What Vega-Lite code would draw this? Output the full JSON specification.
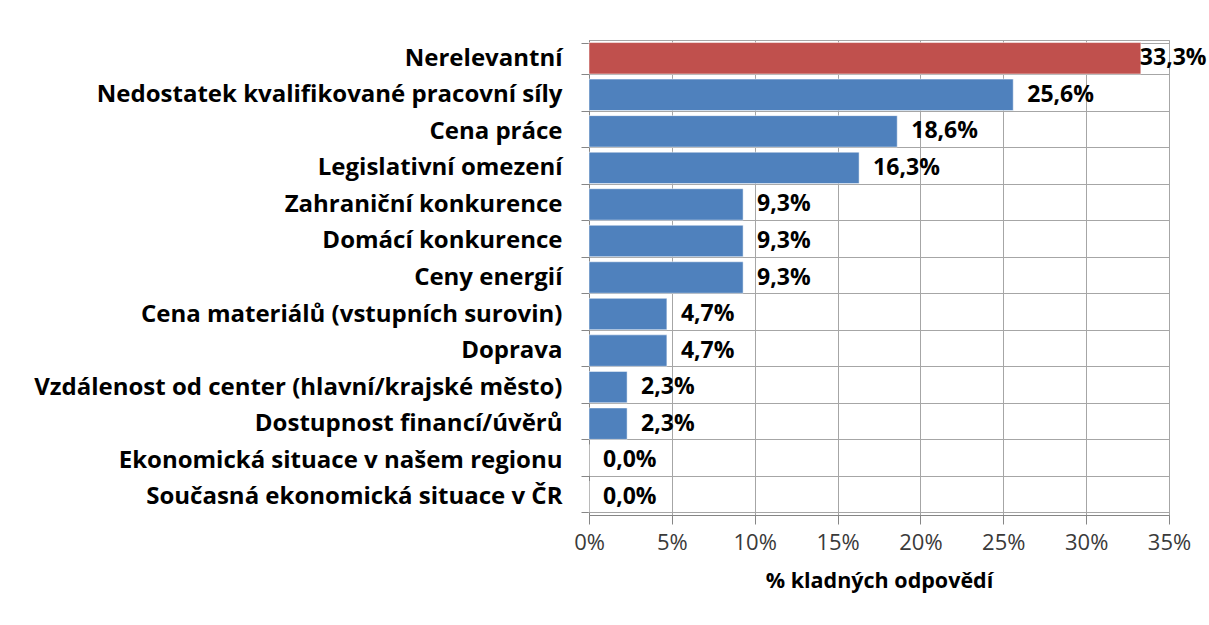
{
  "$schema": "https://vega.github.io/schema/vega-lite/v6.json",
  "autosize": "none",
  "width": 580,
  "height": 475,
  "padding": {"left": 589, "top": 40, "right": 40, "bottom": 110},
  "config": {
    "locale": {"number": {"decimal": ",", "thousands": " ", "grouping": [3], "currency": ["", " Kč"]}},
    "view": {"stroke": "#A6A6A6", "strokeWidth": 1},
    "font": "Open Sans"
  },
  "data": {
    "values": [
      {"kat": "Nerelevantní", "hodnota": 0.333, "skupina": "n"},
      {"kat": "Nedostatek kvalifikované pracovní síly", "hodnota": 0.256, "skupina": "a"},
      {"kat": "Cena práce", "hodnota": 0.186, "skupina": "a"},
      {"kat": "Legislativní omezení", "hodnota": 0.163, "skupina": "a"},
      {"kat": "Zahraniční konkurence", "hodnota": 0.093, "skupina": "a"},
      {"kat": "Domácí konkurence", "hodnota": 0.093, "skupina": "a"},
      {"kat": "Ceny energií", "hodnota": 0.093, "skupina": "a"},
      {"kat": "Cena materiálů (vstupních surovin)", "hodnota": 0.047, "skupina": "a"},
      {"kat": "Doprava", "hodnota": 0.047, "skupina": "a"},
      {"kat": "Vzdálenost od center (hlavní/krajské město)", "hodnota": 0.023, "skupina": "a"},
      {"kat": "Dostupnost financí/úvěrů", "hodnota": 0.023, "skupina": "a"},
      {"kat": "Ekonomická situace v našem regionu", "hodnota": 0.0, "skupina": "a"},
      {"kat": "Současná ekonomická situace v ČR", "hodnota": 0.0, "skupina": "a"}
    ]
  },
  "encoding": {
    "y": {
      "field": "kat", "type": "nominal", "sort": null,
      "scale": {"paddingInner": 0.14, "paddingOuter": 0.07},
      "axis": {
        "title": null, "tickBand": "extent", "grid": true, "gridColor": "#A6A6A6",
        "domainColor": "#868686", "tickColor": "#868686", "tickSize": 8,
        "labelFont": "Open Sans", "labelFontWeight": "bold", "labelFontSize": 24,
        "labelColor": "#000000", "labelPadding": 19, "labelLimit": 600
      }
    },
    "x": {
      "field": "hodnota", "type": "quantitative",
      "scale": {"domain": [0, 0.35], "nice": false},
      "axis": {
        "format": ".0%", "values": [0, 0.05, 0.1, 0.15, 0.2, 0.25, 0.3, 0.35],
        "labelFlush": false, "labelOverlap": false,
        "title": "% kladných odpovědí", "titleFont": "Open Sans", "titleFontWeight": "bold",
        "titleFontSize": 21.5, "titleColor": "#000000", "titlePadding": 17,
        "grid": true, "gridColor": "#A6A6A6", "domainColor": "#868686", "tickColor": "#868686",
        "tickSize": 9, "labelFont": "Open Sans", "labelFontSize": 22, "labelColor": "#3A3A3A", "labelPadding": 8
      }
    }
  },
  "layer": [
    {
      "mark": {"type": "bar", "stroke": "#FFFFFF", "strokeWidth": 0.5},
      "encoding": {
        "color": {
          "field": "skupina", "type": "nominal", "legend": null,
          "scale": {"domain": ["n", "a"], "range": ["#C0504D", "#4F81BD"]}
        }
      }
    },
    {
      "transform": [{"filter": "datum.hodnota < 0.3"}],
      "mark": {"type": "text", "align": "left", "baseline": "middle", "dx": 14, "font": "Open Sans", "fontSize": 23, "fontWeight": "bold", "color": "#000000"},
      "encoding": {"text": {"field": "hodnota", "type": "quantitative", "format": ".1%"}}
    },
    {
      "transform": [{"filter": "datum.hodnota >= 0.3"}],
      "mark": {"type": "text", "align": "left", "baseline": "middle", "dx": -1, "font": "Open Sans", "fontSize": 23, "fontWeight": "bold", "color": "#000000"},
      "encoding": {"text": {"field": "hodnota", "type": "quantitative", "format": ".1%"}}
    }
  ]
}
